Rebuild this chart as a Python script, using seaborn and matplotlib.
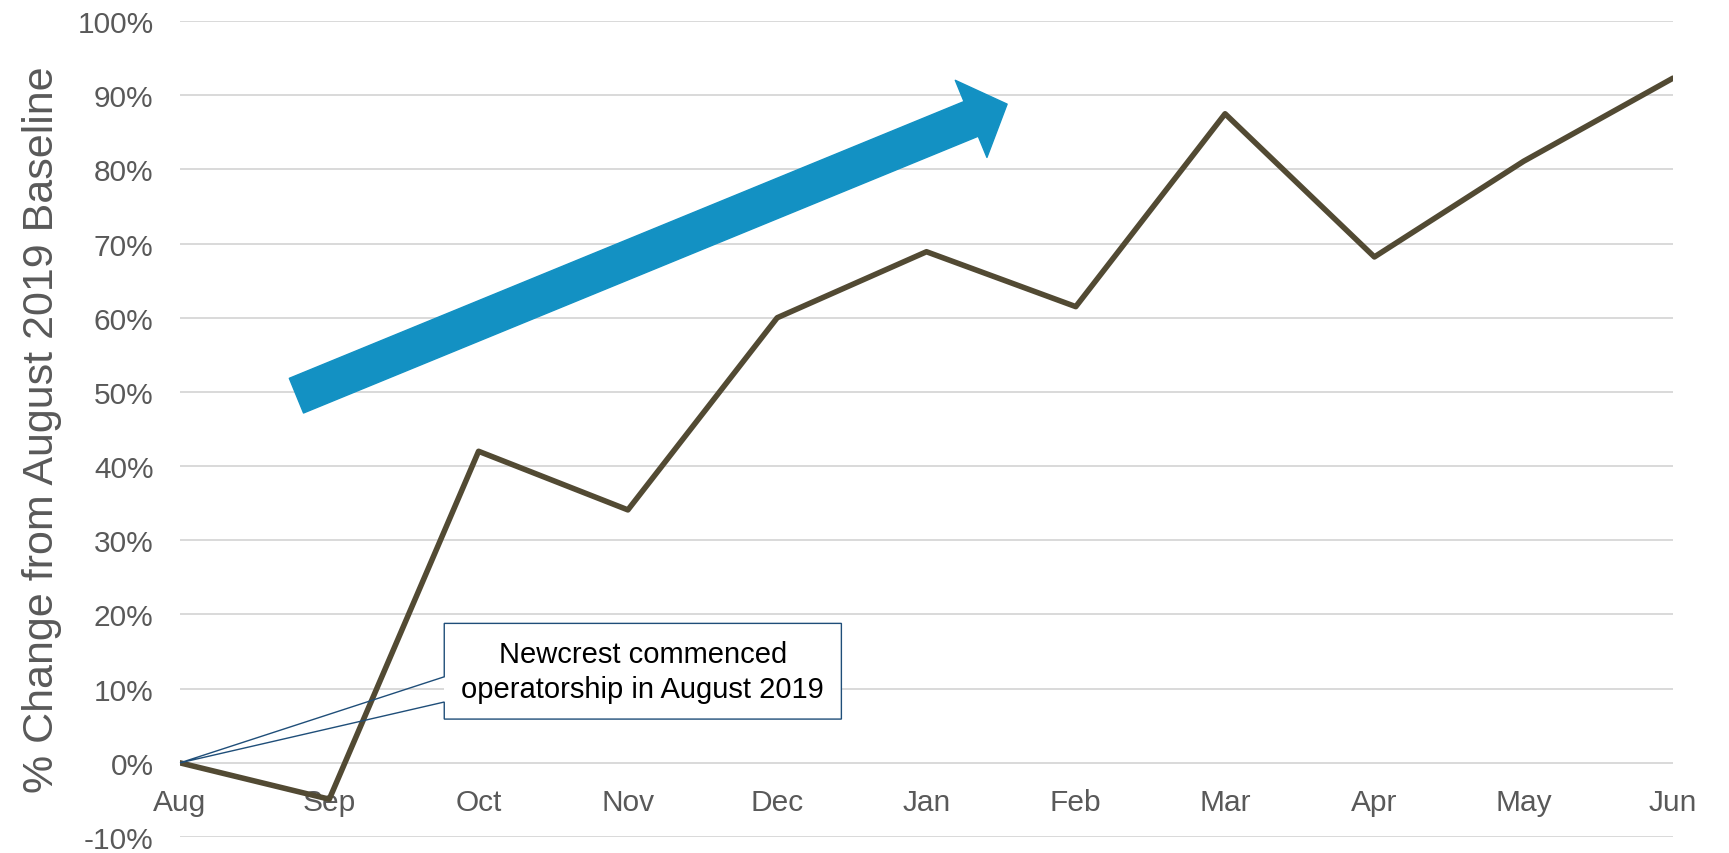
import numpy as np
import pandas as pd
import matplotlib.pyplot as plt
from matplotlib.patches import Polygon, Rectangle, FancyArrowPatch
import seaborn as sns

# Data
months = ['Aug', 'Sep', 'Oct', 'Nov', 'Dec', 'Jan', 'Feb', 'Mar', 'Apr', 'May', 'Jun']
pct_change = [0.0, -4.9, 42.0, 34.1, 60.0, 68.9, 61.5, 87.5, 68.2, 81.1, 92.3]
y_ticks = list(range(-10, 101, 10))
callout_text = 'Newcrest commenced\noperatorship in August 2019'

df = pd.DataFrame({'pos': np.arange(len(months)), 'change': pct_change})

sns.set_style('white')
plt.rcParams['font.family'] = ['Liberation Sans', 'DejaVu Sans']

fig = plt.figure(figsize=(17.29, 8.54), dpi=100)
ax = fig.add_axes([0.1041, 0.0187, 0.8635, 0.9555])

sns.lineplot(data=df, x='pos', y='change', color='#524A33', linewidth=4.0, ax=ax, zorder=3)

ax.set_xlim(0, len(months) - 1)
ax.set_ylim(-10, 100)
ax.set_yticks(y_ticks)
ax.set_yticklabels([f'{v}%' for v in y_ticks])
ax.set_xticks(df['pos'])
ax.set_xticklabels(months)
ax.set_xlabel('')
ax.set_ylabel('')

# gridlines and axes styling
ax.yaxis.grid(True, color='#D9D9D9', linewidth=1.4)
ax.xaxis.grid(False)
for s in ax.spines.values():
    s.set_visible(False)
ax.spines['bottom'].set_position(('data', 0))
ax.tick_params(axis='y', length=0, pad=19, labelsize=21.5, labelcolor='#595959')
ax.tick_params(axis='x', length=0, pad=18, labelsize=21.5, labelcolor='#595959')
ax.set_axisbelow(True)

# y label
fig.text(0.0245, 0.4965, '% Change from August 2019 Baseline', rotation=90,
         ha='center', va='center', fontsize=31, color='#595959',
         family=['Liberation Sans Narrow', 'Liberation Sans', 'DejaVu Sans'])

# big blue trend arrow
arrow = FancyArrowPatch((0.78, 49.5), (5.54, 88.8),
                        arrowstyle='simple,head_length=28,head_width=60,tail_width=27',
                        mutation_scale=1, shrinkA=0, shrinkB=0,
                        color='#1391C3', zorder=4)
ax.add_patch(arrow)

# callout box
x0, x1, y0, y1 = 1.77, 4.43, 5.9, 18.8
ax.add_patch(Rectangle((x0, y0), x1 - x0, y1 - y0, facecolor='white',
                       edgecolor='none', zorder=4))
outline = [(x0, y1), (x1, y1), (x1, y0), (x0, y0), (x0, 8.2), (0, 0), (x0, 11.6)]
ax.add_patch(Polygon(outline, closed=True, facecolor='none', edgecolor='#1F4E79',
                     linewidth=1.0, zorder=5, clip_on=False))
ax.text((x0 + x1) / 2, (y0 + y1) / 2, callout_text, ha='center', va='center',
        fontsize=21, color='black', linespacing=1.3, zorder=6)

fig.savefig('out.png', dpi=100)
